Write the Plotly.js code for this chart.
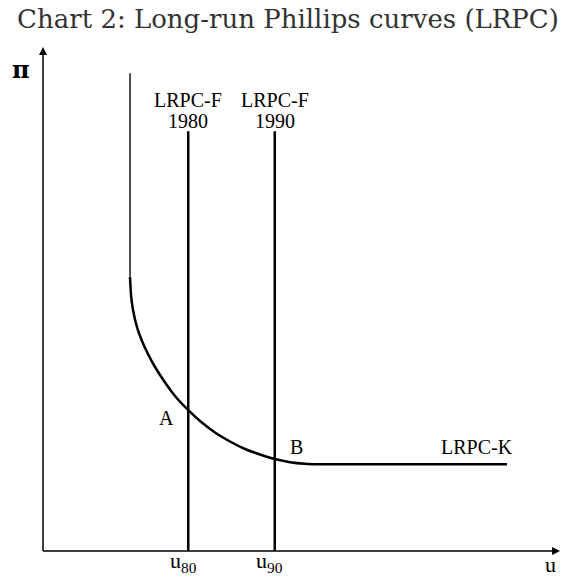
<!DOCTYPE html>
<html>
<head>
<meta charset="utf-8">
<script src="https://cdn.plot.ly/plotly-3.0.1.min.js"></script>
<style>html,body{margin:0;padding:0;background:#fff;}#chart{width:561px;height:577px;}</style>
</head>
<body>
<div id="chart"></div>
<script>
// ---- data (conceptual units: u and pi on 0..100 scales) ----
const chartTitle = "Chart 2: Long-run Phillips curves (LRPC)";
const fLineU = [28.2, 45.0];            // u80, u90
const fLineTop = 83.3;                  // top of LRPC-F lines
const fLineNames = ["1980", "1990"];
const fTickLabels = ["u<sub>80</sub>", "u<sub>90</sub>"];
// LRPC-K: vertical part
const kVertU = [16.9, 16.9];
const kVertPi = [94.8, 54.4];
// LRPC-K: curved + flat part
const kU  = [16.89, 17.09, 17.48, 18.25, 19.22, 20.39, 21.75, 23.50, 25.63, 28.16, 30.49, 33.40, 36.31, 39.22, 42.14, 45.05, 47.96, 50.87, 53.40, 90.10];
const kPi = [54.37, 50.79, 47.82, 44.44, 41.67, 39.09, 36.51, 33.73, 30.75, 27.98, 25.79, 23.51, 21.73, 20.24, 19.15, 18.25, 17.62, 17.30, 17.20, 17.20];
const axisTipU = 100.4;
const axisTipPi = 100.0;

const serif = "Liberation Serif, Times New Roman, serif";
const black = "#000";

const traces = [
  // axes
  {x: [0, axisTipU - 1], y: [0, 0], mode: "lines", line: {color: black, width: 1.5}, hoverinfo: "skip"},
  {x: [0, 0], y: [0, axisTipPi - 1], mode: "lines", line: {color: black, width: 1.5}, hoverinfo: "skip"},
  {x: [axisTipU], y: [0], mode: "markers", marker: {symbol: "arrow-right", size: 8, color: black, line: {width: 0}}, hoverinfo: "skip"},
  {x: [0], y: [axisTipPi], mode: "markers", marker: {symbol: "arrow-up", size: 8, color: black, line: {width: 0}}, hoverinfo: "skip"},
  // LRPC-K
  {x: kVertU, y: kVertPi, mode: "lines", line: {color: "#111", width: 1.5}, hoverinfo: "skip"},
  {x: kU, y: kPi, mode: "lines", line: {color: black, width: 2.5, shape: "spline", smoothing: 0.5}, hoverinfo: "skip"}
];
// LRPC-F
fLineU.forEach(function (u) {
  traces.push({x: [u, u], y: [0, fLineTop], mode: "lines", line: {color: black, width: 2.5}, hoverinfo: "skip"});
});

const ann = [];
const lblFont = {family: serif, size: 20, color: black};
fLineU.forEach(function (u, i) {
  ann.push({x: u, y: 89.5, xref: "x", yref: "y", text: "LRPC-F", showarrow: false, font: lblFont});
  ann.push({x: u, y: 85.4, xref: "x", yref: "y", text: fLineNames[i], showarrow: false, font: lblFont});
  ann.push({x: u, y: -2.18, xref: "x", yref: "y", xshift: -5, text: fTickLabels[i], showarrow: false,
    font: {family: serif, size: 22, color: black}});
});
ann.push({x: 23.98, y: 26.3, xref: "x", yref: "y", text: "A", showarrow: false, font: lblFont});
ann.push({x: 49.2, y: 20.6, xref: "x", yref: "y", text: "B", showarrow: false, font: lblFont});
ann.push({x: 84.3, y: 20.6, xref: "x", yref: "y", text: "LRPC-K", showarrow: false, font: lblFont});
ann.push({x: 98.6, y: -2.58, xref: "x", yref: "y", text: "u", showarrow: false, font: {family: serif, size: 22, color: black}});
ann.push({x: -4.27, y: 95.6, xref: "x", yref: "y", text: "π", showarrow: false, font: {family: "DejaVu Serif, serif", size: 24, color: black, weight: "bold"}});

const hiddenAxis = {showgrid: false, zeroline: false, showline: false, showticklabels: false, ticks: "", fixedrange: true};

const layout = {
  width: 561, height: 577,
  margin: {l: 0, r: 0, t: 0, b: 0},
  paper_bgcolor: "#fff", plot_bgcolor: "#fff",
  showlegend: false,
  title: {text: chartTitle, font: {family: "DejaVu Serif, serif", size: 26, color: "#333"},
    x: 288 / 561, xanchor: "center", y: 1 - 19 / 577, yref: "container", yanchor: "middle"},
  xaxis: Object.assign({range: [-8.35, 100.58]}, hiddenAxis),
  yaxis: Object.assign({range: [-5.16, 109.33]}, hiddenAxis),
  annotations: ann
};

Plotly.newPlot("chart", traces, layout, {staticPlot: true, displayModeBar: false});
</script>
</body>
</html>
